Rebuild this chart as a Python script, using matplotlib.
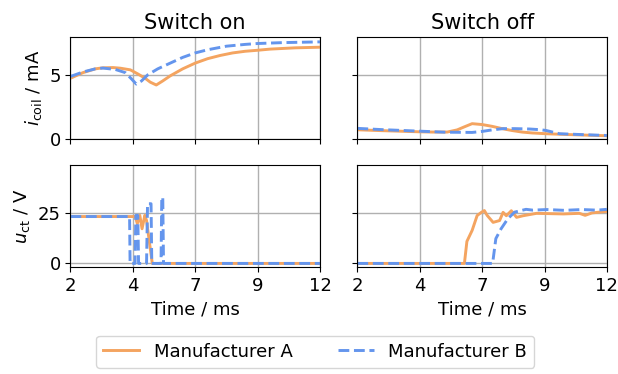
import matplotlib
matplotlib.use('Agg')
import matplotlib.pyplot as plt

# Coil current, switch on
on_i_a_t = [2.0, 2.5, 3.0, 3.3, 3.7, 4.0, 4.4, 4.7, 5.0, 5.2, 5.44, 5.7, 6.0,
            6.5, 7.0, 7.5, 8.0, 8.5, 9.0, 9.5, 10.0, 11.0, 12.0]
on_i_a = [4.76, 5.2, 5.5, 5.58, 5.6, 5.55, 5.42, 5.1, 4.75, 4.45, 4.23, 4.55,
          4.95, 5.5, 5.95, 6.3, 6.55, 6.75, 6.88, 6.96, 7.05, 7.15, 7.2]
on_i_b_t = [2.0, 2.5, 3.0, 3.3, 3.8, 4.2, 4.45, 4.64, 4.85, 5.1, 5.5, 6.0,
            6.5, 7.0, 7.5, 8.25, 9.0, 9.5, 10.5, 12.0]
on_i_b = [4.9, 5.25, 5.5, 5.56, 5.45, 5.2, 4.7, 4.3, 4.55, 5.03, 5.5, 5.95,
          6.4, 6.75, 7.0, 7.28, 7.42, 7.49, 7.56, 7.62]

# Coil current, switch off
off_i_a_t = [2.0, 3.0, 4.0, 4.5, 5.0, 5.6, 6.0, 6.3, 6.6, 7.0, 7.4, 7.8, 8.2,
             8.6, 9.0, 9.55, 10.5, 11.3, 12.0]
off_i_a = [0.71, 0.64, 0.58, 0.55, 0.53, 0.53, 0.7, 0.95, 1.19, 1.12, 0.98,
           0.8, 0.65, 0.53, 0.46, 0.4, 0.33, 0.28, 0.24]
off_i_b_t = [2.0, 3.0, 4.5, 5.5, 6.6, 7.0, 7.4, 7.84, 8.3, 8.9, 9.3, 9.55,
             10.1, 11.0, 12.0]
off_i_b = [0.82, 0.72, 0.6, 0.52, 0.5, 0.58, 0.7, 0.8, 0.8, 0.77, 0.72, 0.66,
           0.4, 0.33, 0.26]

# Contact voltage, switch on
on_u_a_t = [2.0, 4.6, 4.68, 4.78, 4.87, 4.98, 5.05, 5.15, 5.28, 12.0]
on_u_a = [23.4, 23.4, 19.8, 24.0, 17.3, 24.0, 21.4, 12.0, 0.0, 0.0]
on_u_b_t = [2.0, 4.37, 4.39, 4.59, 4.62, 4.7, 4.73, 5.05, 5.09, 5.23, 5.26,
            5.63, 5.66, 5.7, 5.73, 12.0]
on_u_b = [23.4, 23.4, 0.0, 0.0, 24.0, 24.0, 0.0, 0.0, 29.8, 29.8, 0.0,
          0.0, 33.0, 33.0, 0.0, 0.0]

# Contact voltage, switch off
off_u_a_t = [2.0, 6.29, 6.39, 6.6, 6.8, 6.97, 7.09, 7.2, 7.44, 7.7, 7.84,
             7.97, 8.17, 8.38, 8.64, 9.18, 10.26, 10.9, 11.13, 11.4, 12.0]
off_u_a = [0.0, 0.0, 11.0, 16.5, 23.9, 25.5, 26.4, 24.0, 20.5, 21.4, 25.5,
           23.8, 26.3, 23.0, 23.8, 25.0, 24.7, 25.0, 24.0, 25.2, 26.0]
off_u_b_t = [2.0, 7.42, 7.55, 7.76, 8.03, 8.3, 8.76, 9.03, 9.6, 10.3, 11.0,
             11.6, 12.0]
off_u_b = [0.0, 0.0, 12.4, 17.3, 22.3, 25.6, 27.0, 26.6, 26.9, 26.5, 26.9,
           26.6, 27.0]

xticks = [2, 4.5, 7, 9.5, 12]
xticklabels = ['2', '4', '7', '9', '12']
titles = ['Switch on', 'Switch off']

color_a = 'sandybrown'
color_b = 'cornflowerblue'

plt.rcParams['font.size'] = 13

fig, axes = plt.subplots(2, 2, figsize=(6.18, 3.74), dpi=100,
                         sharex=True, sharey='row')
fig.subplots_adjust(left=0.114, right=0.982, top=0.901, bottom=0.286,
                    wspace=0.15, hspace=0.26)

curves = [
    [(on_i_a_t, on_i_a, on_i_b_t, on_i_b), (off_i_a_t, off_i_a, off_i_b_t, off_i_b)],
    [(on_u_a_t, on_u_a, on_u_b_t, on_u_b), (off_u_a_t, off_u_a, off_u_b_t, off_u_b)],
]

for r in range(2):
    for c in range(2):
        ax = axes[r, c]
        ta, ya, tb, yb = curves[r][c]
        la, = ax.plot(ta, ya, color=color_a, lw=2.1, label='Manufacturer A')
        lb, = ax.plot(tb, yb, color=color_b, lw=2.1, ls='--', label='Manufacturer B')
        ax.grid(True, color='#b0b0b0', lw=1)
        ax.set_axisbelow(True)
        ax.set_xlim(2, 12)
        ax.set_xticks(xticks)
        ax.set_xticklabels(xticklabels)
        if r == 0:
            ax.set_title(titles[c], fontsize=15)
        else:
            ax.set_xlabel('Time / ms')

axes[0, 0].set_ylim(0, 8)
axes[0, 0].set_yticks([0, 5])
axes[1, 0].set_ylim(-1.8, 49)
axes[1, 0].set_yticks([0, 25])
axes[0, 0].set_ylabel(r'$i_\mathrm{coil}$ / mA')
axes[1, 0].set_ylabel(r'$u_\mathrm{ct}$ / V')

fig.legend(handles=[la, lb], loc='lower center', ncol=2,
           bbox_to_anchor=(0.51, -0.008), columnspacing=2.5)

fig.savefig('out.png', dpi=100)
